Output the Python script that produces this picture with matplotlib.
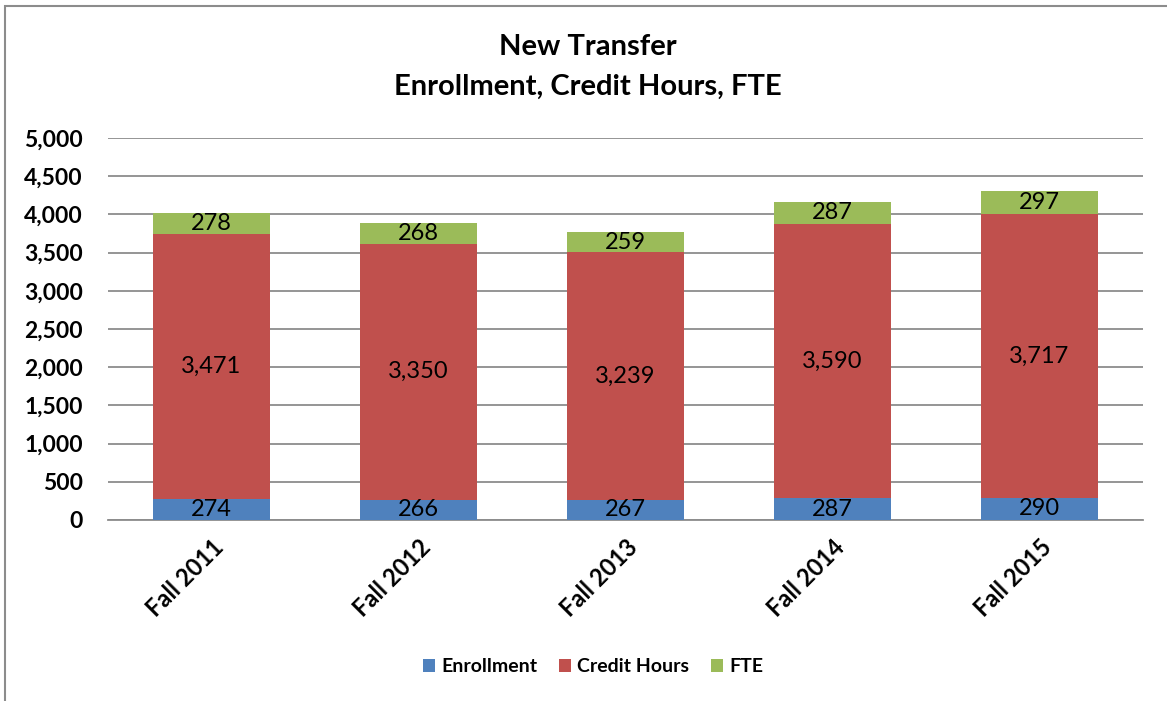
import numpy as np
import matplotlib.pyplot as plt
from matplotlib.patches import Rectangle

plt.rcParams['font.family'] = ['Lato', 'DejaVu Sans']

terms = ["Fall 2011", "Fall 2012", "Fall 2013", "Fall 2014", "Fall 2015"]
enrollment = [274, 266, 267, 287, 290]
credit_hours = [3471, 3350, 3239, 3590, 3717]
fte = [278, 268, 259, 287, 297]

colors = ["#4f81bd", "#c0504d", "#9bbb59"]

fig = plt.figure(figsize=(11.67, 7.01), dpi=100)
ax = fig.add_axes([108 / 1167, 1 - 520 / 701, 1035 / 1167, 382 / 701])

# chart border like Excel
fig.patches.append(Rectangle((5 / 1167, -0.1), 1.2, 1 - 6 / 701 + 0.1,
                             transform=fig.transFigure, fill=False,
                             edgecolor="#8c8c8c", linewidth=1.5))

x = np.arange(len(terms))
w = 0.57
bottom = np.zeros(len(terms))
for vals, c, name in zip([enrollment, credit_hours, fte], colors,
                         ["Enrollment", "Credit Hours", "FTE"]):
    bars = ax.bar(x, vals, w, bottom=bottom, color=c, label=name, zorder=3)
    for xi, b, v in zip(x, bottom, vals):
        ax.text(xi, b + v / 2, f"{v:,}", ha="center", va="center",
                fontsize=17, zorder=4)
    bottom += np.array(vals)

ax.set_xlim(-0.5, len(terms) - 0.5)
ax.set_ylim(0, 5000)
ax.set_yticks(np.arange(0, 5001, 500))
ax.set_yticklabels([f"{v:,}" for v in np.arange(0, 5001, 500)],
                   fontsize=16.5, fontweight="bold")
ax.set_xticks(x)
ax.set_xticklabels(terms, rotation=45, ha="right", rotation_mode="anchor",
                   fontsize=17, fontweight="bold")
ax.tick_params(axis="y", length=0, pad=18)
ax.tick_params(axis="x", length=0, pad=11)
ax.grid(axis="y", color="#8c8c8c", linewidth=1.3, zorder=0)
for s in ["top", "right", "left"]:
    ax.spines[s].set_visible(False)
ax.spines["bottom"].set_color("#8c8c8c")
ax.spines["bottom"].set_linewidth(1.3)

fig.text(588 / 1167, 1 - 47 / 701, "New Transfer", ha="center", va="center",
         fontsize=21, fontweight="bold")
fig.text(588 / 1167, 1 - 87 / 701, "Enrollment, Credit Hours, FTE",
         ha="center", va="center", fontsize=21, fontweight="bold")

fig.legend(loc="center", bbox_to_anchor=(593 / 1167, 1 - 667 / 701), ncol=3,
           frameon=False, prop={"weight": "bold", "size": 14},
           handlelength=0.65, handleheight=0.65, columnspacing=1.1,
           handletextpad=0.3)

fig.savefig("out.png", dpi=100)
